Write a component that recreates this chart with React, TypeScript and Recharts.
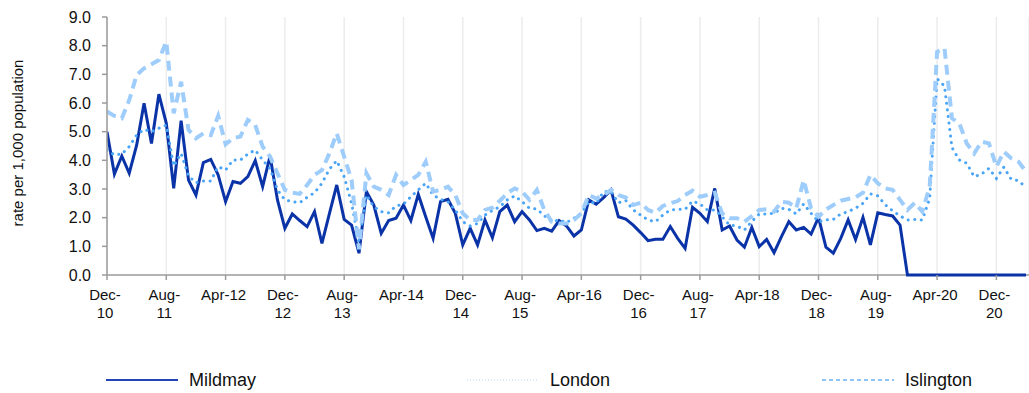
import React from "react";
import {
  LineChart,
  Line,
  XAxis,
  YAxis,
  CartesianGrid,
} from "recharts";

// monthly rates, Dec-10 .. Apr-21 (125 months)
const mildmay = [
  5.0, 3.52, 4.15, 3.55, 4.53, 5.99, 4.59, 6.31, 5.29, 3.02, 5.38, 3.31, 2.79, 3.92, 4.03, 3.49,
  2.56, 3.26, 3.2, 3.43, 3.99, 3.08, 4.15, 2.62, 1.63, 2.13, 1.9, 1.69, 2.21, 1.1, 2.13, 3.14,
  1.94, 1.74, 0.76, 2.91, 2.44, 1.45, 1.9, 1.98, 2.44, 1.9, 2.81, 2.03, 1.28, 2.56, 2.64, 2.15,
  1.05, 1.63, 1.05, 1.92, 1.3, 2.21, 2.44, 1.86, 2.21, 1.92, 1.55, 1.63, 1.53, 1.9, 1.71, 1.36,
  1.57, 2.62, 2.47, 2.7, 2.97, 2.03, 1.95, 1.74, 1.48, 1.2, 1.25, 1.25, 1.69, 1.28, 0.93, 2.36,
  2.15, 1.86, 3.02, 1.57, 1.71, 1.22, 0.97, 1.66, 0.99, 1.24, 0.78, 1.34, 1.86, 1.57, 1.66, 1.43,
  2.01, 0.97, 0.76, 1.28, 1.92, 1.24, 2.01, 1.05, 2.17, 2.11, 2.06, 1.74, 0, 0, 0, 0,
  0, 0, 0, 0, 0, 0, 0, 0, 0, 0, 0, 0, 0,
];

const london = [
  4.36, 4.19, 4.22, 4.48, 4.88, 5.08, 5.0, 5.12, 5.23, 3.8, 4.24, 3.45, 3.22, 3.28, 3.28, 3.78,
  3.66, 4.01, 4.01, 4.22, 4.36, 4.01, 3.72, 2.97, 2.62, 2.56, 2.52, 2.71, 2.87, 3.2, 3.69, 3.99,
  3.43, 2.5, 1.15, 2.79, 2.38, 2.21, 2.17, 2.41, 2.47, 2.73, 2.97, 3.2, 2.79, 2.64, 2.56, 2.27,
  1.86, 1.71, 1.8, 2.09, 2.25, 2.38, 2.62, 2.76, 2.56, 2.33, 2.3, 2.07, 1.86, 1.92, 1.83, 1.98,
  2.15, 2.56, 2.5, 2.91, 2.91, 2.52, 2.6, 2.27, 2.09, 1.92, 1.86, 2.09, 2.27, 2.29, 2.29, 2.58,
  2.48, 2.27, 2.27, 2.03, 1.74, 1.71, 1.57, 1.87, 2.13, 2.13, 2.15, 2.33, 2.29, 2.13, 2.48, 2.15,
  1.86, 1.92, 1.94, 2.13, 2.21, 2.33, 2.5, 2.83, 2.76, 2.45, 2.24, 2.06, 1.92, 1.94, 1.92, 2.67,
  6.85, 6.59, 4.45, 4.01, 3.9, 3.43, 3.52, 3.72, 3.37, 3.76, 3.34, 3.29, 3.05,
];

const islington = [
  5.7, 5.55, 5.47, 6.1, 6.98, 7.21, 7.35, 7.5, 8.14, 5.64, 6.74, 5.06, 4.77, 4.94, 4.88, 5.55,
  4.56, 4.77, 4.83, 5.41, 5.23, 4.48, 4.13, 3.55, 2.97, 2.87, 2.83, 3.14, 3.49, 3.66, 4.24, 4.94,
  4.13, 3.31, 0.9, 3.55, 3.08, 2.97, 2.79, 3.49, 3.14, 3.31, 3.49, 3.95, 2.91, 2.97, 3.08, 2.79,
  2.15, 1.92, 1.92, 2.27, 2.35, 2.59, 2.85, 3.02, 2.91, 2.62, 2.97, 2.27, 1.86, 1.8, 1.8, 1.92,
  2.15, 2.79, 2.67, 2.79, 2.97, 2.79, 2.7, 2.44, 2.52, 2.27, 2.17, 2.41, 2.5, 2.58, 2.79, 2.94,
  2.73, 2.79, 2.87, 2.15, 1.98, 1.98, 1.86, 2.05, 2.27, 2.29, 2.21, 2.56, 2.52, 2.33, 3.31, 2.33,
  2.03, 2.29, 2.44, 2.59, 2.65, 2.71, 2.87, 3.49, 3.2, 3.02, 2.97, 2.62, 2.27, 2.52, 2.21, 3.08,
  7.79, 7.91, 5.47, 5.29, 4.59, 4.24, 4.65, 4.59, 3.78, 4.3, 4.07, 3.95, 3.6,
];

// every 8th month gets a label
const tickMonths = [0, 8, 16, 24, 32, 40, 48, 56, 64, 72, 80, 88, 96, 104, 112, 120];
const tickLabels = [
  "Dec-\n10", "Aug-\n11", "Apr-12", "Dec-\n12", "Aug-\n13", "Apr-14", "Dec-\n14", "Aug-\n15",
  "Apr-16", "Dec-\n16", "Aug-\n17", "Apr-18", "Dec-\n18", "Aug-\n19", "Apr-20", "Dec-\n20",
];
const yTicks = [0, 1, 2, 3, 4, 5, 6, 7, 8, 9];

const data = mildmay.map((v, i) => ({
  i,
  mildmay: v,
  london: london[i],
  islington: islington[i],
}));

const FONT = "'Liberation Sans', Arial, sans-serif";
const AXIS = "#9b9b9b";
const PLOT_BOTTOM = 275;

const XTick = (props: any) => {
  const { x, y, payload } = props;
  const k = tickMonths.indexOf(payload.value);
  const lines = (tickLabels[k] || "").split("\n");
  return (
    <text x={x - 2} y={y} textAnchor="middle" fontSize={15} fill="#111" fontFamily={FONT}>
      {lines.map((l, n) => (
        <tspan key={n} x={x - 2} dy={n === 0 ? 20 : 18}>
          {l}
        </tspan>
      ))}
    </text>
  );
};

const legendItems = [
  { name: "Mildmay", x: 106, color: "#2445b5", width: 2, dash: undefined },
  { name: "London", x: 467, color: "#cfe4f8", width: 1.5, dash: "1 2" },
  { name: "Islington", x: 822, color: "#8fc4f6", width: 2, dash: "4 3" },
];

export default function App() {
  return (
    <div
      style={{
        position: "absolute",
        left: 0,
        top: 0,
        width: 1029,
        height: 393,
        background: "#fff",
        fontFamily: FONT,
        overflow: "hidden",
      }}
    >
      <LineChart
        width={1029}
        height={393}
        data={data}
        margin={{ top: 17, right: 0, bottom: 0, left: 0 }}
      >
        <CartesianGrid horizontal={false} stroke="#ececec" strokeWidth={1.5} />
        {/* bottom axis line drawn as grid so the series sit on top of it */}
        <CartesianGrid
          vertical={false}
          horizontalPoints={[PLOT_BOTTOM]}
          stroke={AXIS}
          strokeWidth={1.5}
        />
        <XAxis
          dataKey="i"
          type="number"
          domain={[0, 124.4]}
          ticks={tickMonths}
          allowDataOverflow
          height={118}
          tick={<XTick />}
          tickSize={5}
          tickMargin={0}
          axisLine={false}
          tickLine={{ stroke: AXIS, strokeWidth: 1.5 }}
          interval={0}
        />
        <YAxis
          width={107}
          domain={[0, 9]}
          ticks={yTicks}
          tickFormatter={(v: number) => v.toFixed(1)}
          tick={{ fontSize: 16, fill: "#111", fontFamily: FONT }}
          tickSize={5}
          tickMargin={11}
          stroke={AXIS}
          strokeWidth={1.5}
          interval={0}
        />
        <Line
          dataKey="mildmay"
          stroke="#0b33a8"
          strokeWidth={3}
          dot={false}
          isAnimationActive={false}
        />
        <Line
          dataKey="london"
          stroke="#4aa5f7"
          strokeWidth={3}
          strokeDasharray="0.1 6.5"
          strokeLinecap="round"
          dot={false}
          isAnimationActive={false}
        />
        <Line
          dataKey="islington"
          stroke="#9fcdfb"
          strokeWidth={4}
          strokeDasharray="10 6"
          dot={false}
          isAnimationActive={false}
        />
      </LineChart>

      <div
        style={{
          position: "absolute",
          left: 17,
          top: 143,
          transform: "translate(-50%, -50%) rotate(-90deg)",
          whiteSpace: "nowrap",
          fontSize: 15,
          color: "#111",
        }}
      >
        rate per 1,000 population
      </div>

      {legendItems.map((it) => (
        <div
          key={it.name}
          style={{
            position: "absolute",
            left: it.x,
            top: 369,
            height: 22,
            display: "flex",
            alignItems: "center",
            fontSize: 18,
            color: "#111",
          }}
        >
          <svg width={72} height={22} style={{ marginRight: 11 }}>
            <line
              x1={0}
              y1={11}
              x2={72}
              y2={11}
              stroke={it.color}
              strokeWidth={it.width}
              strokeDasharray={it.dash}
            />
          </svg>
          <span>{it.name}</span>
        </div>
      ))}
    </div>
  );
}
